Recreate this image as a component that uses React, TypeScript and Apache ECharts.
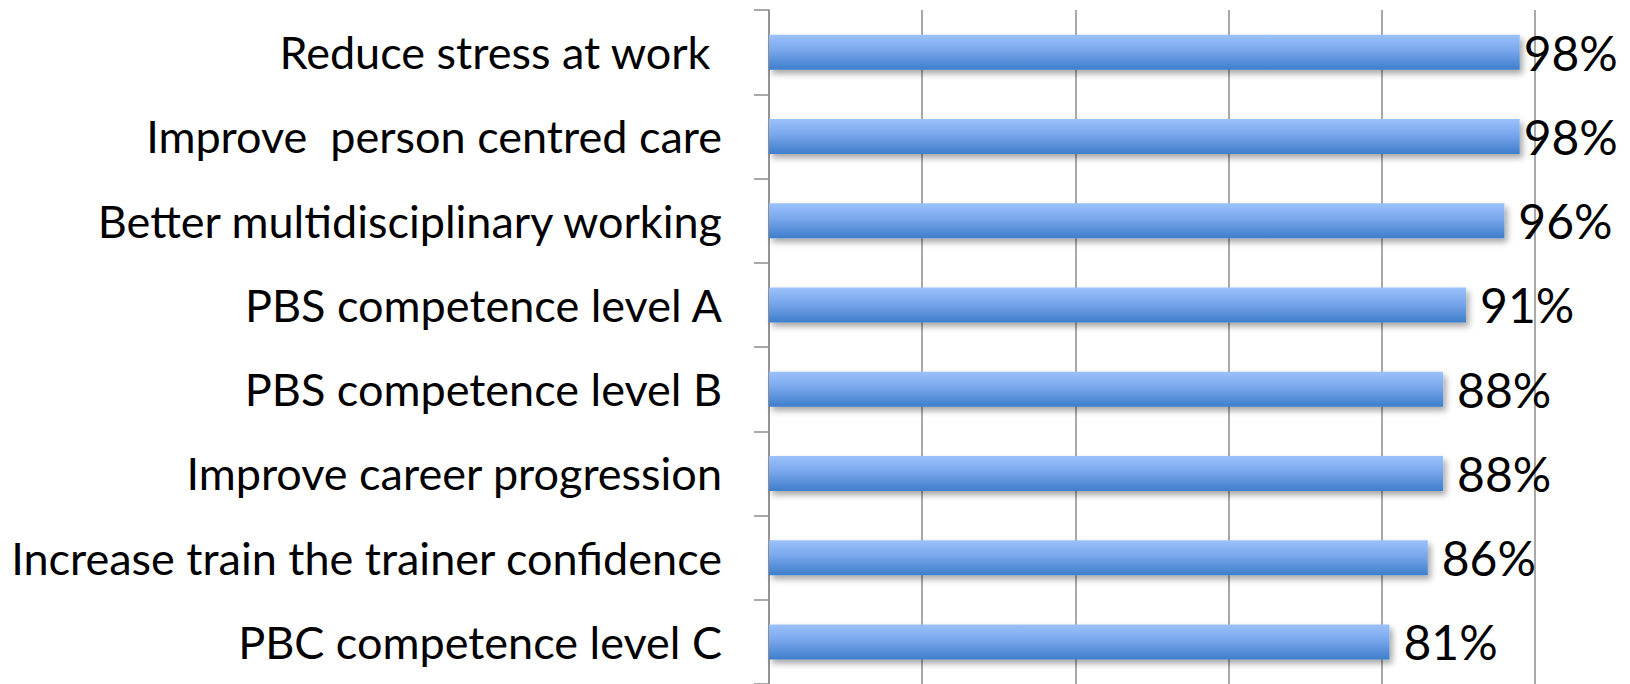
import React, { useEffect, useRef } from "react";
import * as echarts from "echarts";

const categories = [
  "Reduce stress at work ",
  "Improve  person centred care",
  "Better multidisciplinary working",
  "PBS competence level A",
  "PBS competence level B",
  "Improve career progression",
  "Increase train the trainer confidence",
  "PBC competence level C",
];
const values = [98, 98, 96, 91, 88, 88, 86, 81];
const xTicks = { min: 0, max: 100, interval: 20 };

export default function App() {
  const ref = useRef<HTMLDivElement>(null);
  useEffect(() => {
    document.body.style.margin = "0";
    const chart = echarts.init(ref.current!, null, { renderer: "svg" });
    const font = "Lato";
    // labels near the right edge are pulled closer to the bar (as in the source chart)
    const seriesData = values.map((v) => (v > 96 ? { value: v, label: { distance: 4 } } : v));
    chart.setOption({
      animation: false,
      backgroundColor: "#ffffff",
      grid: { left: 769, right: 95, top: 10, bottom: 0, containLabel: false },
      xAxis: {
        type: "value",
        min: xTicks.min,
        max: xTicks.max,
        interval: xTicks.interval,
        axisLine: { show: false },
        axisTick: { show: false },
        axisLabel: { show: false },
        splitLine: { show: true, lineStyle: { color: "#8c8c8c", width: 1.5 } },
      },
      yAxis: {
        type: "category",
        data: categories,
        inverse: true,
        axisLine: { show: true, lineStyle: { color: "#8c8c8c", width: 1.5 } },
        axisTick: { show: true, length: 15, inside: false, lineStyle: { color: "#8c8c8c", width: 1.5 } },
        axisLabel: {
          margin: 47,
          color: "#000",
          fontFamily: font,
          fontSize: 45,
        },
        splitLine: { show: false },
      },
      series: [
        {
          type: "bar",
          data: seriesData,
          barWidth: 35,
          itemStyle: {
            color: new echarts.graphic.LinearGradient(0, 0, 0, 1, [
              { offset: 0, color: "#9cc2fb" },
              { offset: 0.45, color: "#79a6ec" },
              { offset: 1, color: "#3e7ecb" },
            ]),
            shadowColor: "rgba(0,0,0,0.35)",
            shadowBlur: 6,
            shadowOffsetX: 3,
            shadowOffsetY: 4,
          },
          label: {
            show: true,
            position: "right",
            distance: 14,
            formatter: "{c}%",
            color: "#000",
            fontFamily: font,
            fontSize: 48,
          },
        },
      ],
    });
    return () => chart.dispose();
  }, []);
  return <div ref={ref} style={{ width: 1630, height: 684 }} />;
}
